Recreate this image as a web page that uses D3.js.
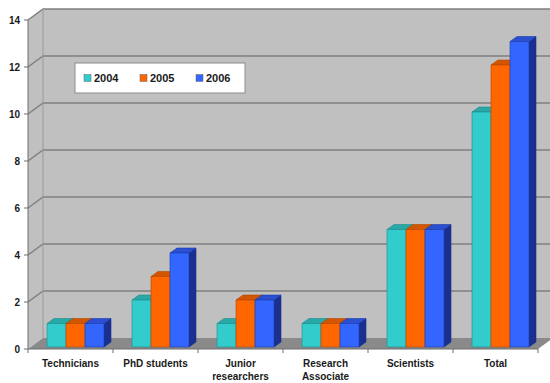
<!DOCTYPE html>
<html>
<head>
<meta charset="utf-8">
<script src="https://cdn.jsdelivr.net/npm/d3@7/dist/d3.min.js"></script>
<style>
  html, body { margin: 0; padding: 0; background: #ffffff; }
  svg { display: block; }
  text { font-family: Arial, "Liberation Sans", sans-serif; font-weight: bold; }
</style>
</head>
<body>
<svg id="chart" width="550" height="383"></svg>
<script>
// Staff by category and year
const categories = [["Technicians"], ["PhD students"], ["Junior", "researchers"], ["Research", "Associate"], ["Scientists"], ["Total"]];
const years = ["2004", "2005", "2006"];
const values2004 = [1, 2, 1, 1, 5, 10];
const values2005 = [1, 3, 2, 1, 5, 12];
const values2006 = [1, 4, 2, 1, 5, 13];
const yTicks = [0, 2, 4, 6, 8, 10, 12, 14];

const series = [values2004, values2005, values2006];
const faceColors = ["#33cccc", "#ff6600", "#3366ff"];
const topColors = ["#29a8a8", "#d45500", "#2a4fd0"];
const sideColors = ["#1e8080", "#a84300", "#1a2f8f"];
const edgeColors = ["#1f8a8a", "#b04800", "#1c3aa8"];

const svg = d3.select("#chart");

// Front plane of the plot and wall depth
const plotLeft = 28, plotRight = 538, plotBottom = 349, plotTop = 20;
const depthX = 15, depthY = -11;

const y = d3.scaleLinear().domain([0, 14]).range([plotBottom, plotTop]);
const x = d3.scaleBand().domain(d3.range(categories.length)).range([plotLeft, plotRight]).padding(0);
const xInner = d3.scaleBand().domain(years).range([19, 76]).padding(0);

const poly = pts => pts.map(p => p.join(",")).join(" ");

// Back wall and left side wall
svg.append("polygon")
  .attr("points", poly([[plotLeft + depthX, y(14) + depthY], [560, y(14) + depthY], [560, plotBottom + depthY], [plotLeft + depthX, plotBottom + depthY]]))
  .attr("fill", "#c0c0c0");
svg.append("polygon")
  .attr("points", poly([[plotLeft, y(14)], [plotLeft + depthX, y(14) + depthY], [plotLeft + depthX, plotBottom + depthY], [plotLeft, plotBottom]]))
  .attr("fill", "#c0c0c0");

// Floor
svg.append("polygon")
  .attr("points", poly([[plotLeft, plotBottom], [plotRight, plotBottom], [plotRight + depthX, plotBottom + depthY], [plotLeft + depthX, plotBottom + depthY]]))
  .attr("fill", "#8a8a8a");

// Gridlines on the side and back walls
const grid = svg.append("g").attr("stroke", "#7f7f7f").attr("stroke-width", 1.5).attr("fill", "none");
yTicks.filter(t => t > 0).forEach(t => {
  grid.append("polyline")
    .attr("points", poly([[plotLeft, y(t)], [plotLeft + depthX, y(t) + depthY], [560, y(t) + depthY]]));
});
grid.append("line").attr("x1", plotLeft + depthX).attr("x2", plotLeft + depthX)
  .attr("y1", y(14) + depthY).attr("y2", plotBottom + depthY).attr("stroke", "#9a9a9a").attr("stroke-width", 1);

// Bars
const barDX = 7, barDY = -5, barLift = 2;
const bars = svg.append("g").attr("stroke-width", 0.6).attr("stroke-linejoin", "round");
categories.forEach((c, i) => {
  years.forEach((yr, s) => {
    const v = series[s][i];
    const x0 = x(i) + xInner(yr);
    const x1 = x0 + xInner.bandwidth();
    const yb = y(0) - barLift;
    const yt = y(v) - barLift;
    // side face
    bars.append("polygon")
      .attr("points", poly([[x1, yb], [x1 + barDX, yb + barDY], [x1 + barDX, yt + barDY], [x1, yt]]))
      .attr("fill", sideColors[s]).attr("stroke", sideColors[s]);
    // top face
    bars.append("polygon")
      .attr("points", poly([[x0, yt], [x0 + barDX, yt + barDY], [x1 + barDX, yt + barDY], [x1, yt]]))
      .attr("fill", topColors[s]).attr("stroke", edgeColors[s]);
    // front face
    bars.append("rect")
      .attr("x", x0).attr("y", yt)
      .attr("width", xInner.bandwidth()).attr("height", yb - yt)
      .attr("fill", faceColors[s]).attr("stroke", edgeColors[s]);
  });
});

// Value axis
const yAxis = svg.append("g");
yAxis.append("line").attr("x1", plotLeft).attr("x2", plotLeft).attr("y1", y(14)).attr("y2", plotBottom)
  .attr("stroke", "#6e6e6e").attr("stroke-width", 1);
yTicks.forEach(t => {
  yAxis.append("line").attr("x1", plotLeft - 4).attr("x2", plotLeft).attr("y1", y(t)).attr("y2", y(t))
    .attr("stroke", "#6e6e6e");
  yAxis.append("text").attr("x", plotLeft - 8).attr("y", y(t)).attr("dy", "0.35em")
    .attr("text-anchor", "end").attr("font-size", 10).attr("fill", "#1a1a1a").text(t);
});

// Category axis
const xAxis = svg.append("g");
xAxis.append("line").attr("x1", plotLeft).attr("x2", plotRight).attr("y1", plotBottom).attr("y2", plotBottom)
  .attr("stroke", "#6e6e6e");
d3.range(categories.length + 1).forEach(i => {
  const xt = plotLeft + i * x.bandwidth();
  xAxis.append("line").attr("x1", xt).attr("x2", xt).attr("y1", plotBottom).attr("y2", plotBottom + 4)
    .attr("stroke", "#6e6e6e");
});
categories.forEach((lines, i) => {
  const t = xAxis.append("text").attr("x", x(i) + x.bandwidth() / 2).attr("y", 367)
    .attr("text-anchor", "middle").attr("font-size", 10).attr("fill", "#1a1a1a");
  lines.forEach((ln, k) => t.append("tspan").attr("x", x(i) + x.bandwidth() / 2).attr("dy", k === 0 ? 0 : 13).text(ln));
});

// Legend
const legend = svg.append("g").attr("transform", "translate(75,63)");
legend.append("rect").attr("width", 170).attr("height", 30)
  .attr("fill", "#ffffff").attr("stroke", "#8c8c8c").attr("stroke-width", 1);
years.forEach((yr, s) => {
  const g = legend.append("g").attr("transform", `translate(${9 + s * 56},0)`);
  g.append("rect").attr("x", 0).attr("y", 11.5).attr("width", 7).attr("height", 7)
    .attr("fill", faceColors[s]).attr("stroke", "#666").attr("stroke-width", 0.5);
  g.append("text").attr("x", 10).attr("y", 15).attr("dy", "0.35em")
    .attr("font-size", 11).attr("fill", "#1a1a1a").text(yr);
});
</script>
</body>
</html>
